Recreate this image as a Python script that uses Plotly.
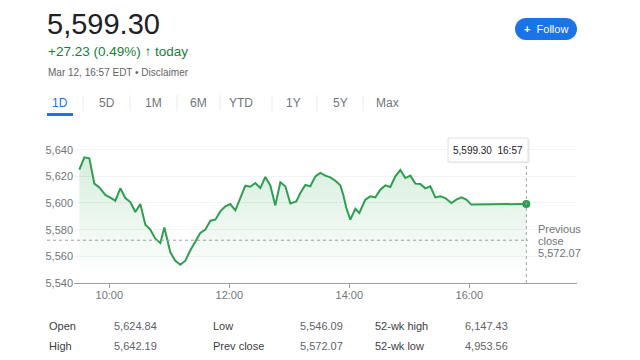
import plotly.graph_objects as go

# ---------------- data ----------------
DAY = "2024-03-12 "
times = ["09:30","09:35","09:40","09:45","09:50","09:56","10:01","10:06","10:11","10:16",
         "10:21","10:26","10:31","10:36","10:41","10:46","10:51","10:55","11:01","11:06",
         "11:11","11:16","11:21","11:26","11:31","11:36","11:41","11:46","11:51","11:56",
         "12:01","12:06","12:11","12:16","12:21","12:26","12:31","12:36","12:41","12:46",
         "12:51","12:56","13:01","13:07","13:11","13:16","13:21","13:26","13:31","13:36",
         "13:41","13:46","13:51","13:54","13:57","14:01","14:06","14:10","14:16","14:21",
         "14:26","14:31","14:36","14:41","14:46","14:51","14:56","15:01","15:06","15:11",
         "15:16","15:21","15:26","15:31","15:36","15:42","15:47","15:52","15:57","16:02",
         "16:57"]
prices = [5625.0,5634.2,5633.5,5614.5,5611.7,5606.0,5604.0,5601.7,5611.0,5603.7,
          5600.7,5593.2,5599.2,5583.7,5580.0,5573.2,5570.0,5581.7,5563.0,5556.7,
          5553.7,5556.7,5564.5,5571.3,5577.5,5580.0,5586.7,5587.5,5593.7,5597.5,
          5599.2,5594.5,5603.7,5613.0,5612.2,5615.0,5611.2,5619.5,5613.2,5598.2,
          5615.5,5612.5,5599.7,5601.2,5607.5,5613.5,5612.5,5620.0,5622.5,5620.5,
          5619.2,5616.7,5613.2,5606.0,5596.2,5587.5,5595.7,5592.5,5602.5,5605.0,
          5604.2,5610.0,5613.2,5612.0,5620.0,5624.7,5618.7,5620.5,5614.5,5614.2,
          5611.0,5612.5,5604.2,5605.0,5603.7,5600.0,5602.5,5604.2,5602.5,5598.8,
          5599.3]
x_ticks = ["10:00", "12:00", "14:00", "16:00"]
y_ticks = [5540, 5560, 5580, 5600, 5620, 5640]

last_price = "5,599.30"
change_text = "+27.23 (0.49%) <b>\u2191</b> today"
stamp_text = "Mar 12, 16:57 EDT \u2022 Disclaimer"
last_time = "16:57"
prev_close = 5572.07
tabs = ["1D", "5D", "1M", "6M", "YTD", "1Y", "5Y", "Max"]
stat_labels = [["Open", "High"], ["Low", "Prev close"], ["52-wk high", "52-wk low"]]
stat_values = [["5,624.84", "5,642.19"], ["5,546.09", "5,572.07"], ["6,147.43", "4,953.56"]]

# ---------------- layout geometry (page pixels) ----------------
W, H = 640, 360
OFF = 8                      # body margin of the page
PL, PR, PT, PB = 74, 577, 137, 283   # plot area edges on the page
PW, PH = PR - PL, PB - PT

def px(x):
    return (x - PL) / PW

def py(y):
    return (PB - y) / PH

FONT = "Liberation Sans, Arial, sans-serif"
GREEN = "#2f9e52"
GRAY = "#70757a"

xs = [DAY + t for t in times]

fig = go.Figure()
fig.add_trace(go.Scatter(
    x=xs, y=prices, mode="lines",
    line=dict(color=GREEN, width=2),
    fill="tozeroy",
    fillgradient=dict(type="vertical", start=5545, stop=5635,
                      colorscale=[[0, "rgba(52,168,83,0.0)"], [1, "rgba(52,168,83,0.2)"]]),
    hoverinfo="skip", showlegend=False))
fig.add_trace(go.Scatter(
    x=[xs[-1]], y=[prices[-1]], mode="markers",
    marker=dict(color=GREEN, size=8), hoverinfo="skip", showlegend=False))

annotations = []
shapes = []

# header
annotations.append(dict(text=last_price, x=px(45), y=py(24), xref="paper", yref="paper",
                        xanchor="left", yanchor="middle", showarrow=False,
                        font=dict(size=29, color="#202124", family=FONT)))
annotations.append(dict(text=change_text, x=px(46), y=py(51), xref="paper", yref="paper",
                        xanchor="left", yanchor="middle", showarrow=False,
                        font=dict(size=13.5, color="#188038", family=FONT)))
annotations.append(dict(text=stamp_text, x=px(46), y=py(72), xref="paper", yref="paper",
                        xanchor="left", yanchor="middle", showarrow=False,
                        font=dict(size=10, color="#5f6368", family=FONT)))

# top card edge
shapes.append(dict(type="line", xref="paper", yref="paper", x0=px(0), x1=px(603),
                   y0=py(1), y1=py(1), line=dict(color="#e6e6e6", width=2)))

# follow button (pill)
def pill(x0, y0, x1, y1):
    r = (y1 - y0) / 2
    k = 0.5523 * r
    ym = (y0 + y1) / 2
    pts = [("M", [(x0 + r, y0)]), ("L", [(x1 - r, y0)]),
           ("C", [(x1 - r + k, y0), (x1, ym - k), (x1, ym)]),
           ("C", [(x1, ym + k), (x1 - r + k, y1), (x1 - r, y1)]),
           ("L", [(x0 + r, y1)]),
           ("C", [(x0 + r - k, y1), (x0, ym + k), (x0, ym)]),
           ("C", [(x0, ym - k), (x0 + r - k, y0), (x0 + r, y0)])]
    s = ""
    for cmd, p in pts:
        s += cmd + " " + " ".join(f"{px(a):.5f},{py(b):.5f}" for a, b in p) + " "
    return s + "Z"

shapes.append(dict(type="path", xref="paper", yref="paper", path=pill(515, 18, 577, 40),
                   fillcolor="#1a73e8", line=dict(width=0)))
annotations.append(dict(text="<b>+</b>  Follow", x=px(546), y=py(29), xref="paper",
                        yref="paper", xanchor="center", yanchor="middle", showarrow=False,
                        font=dict(size=11, color="white", family=FONT)))

# tabs
tab_x = [60, 107, 153, 198, 241, 293, 340, 387]
sep_x = [83, 130, 177, 220, 272, 317, 363]
for name, tx in zip(tabs, tab_x):
    annotations.append(dict(text=name, x=px(tx), y=py(103), xref="paper", yref="paper",
                            xanchor="center", yanchor="middle", showarrow=False,
                            font=dict(size=12, color="#1a73e8" if name == "1D" else GRAY,
                                      family=FONT)))
for sx in sep_x:
    shapes.append(dict(type="line", xref="paper", yref="paper", x0=px(sx), x1=px(sx),
                       y0=py(95), y1=py(111), line=dict(color="#e8eaed", width=1)))
shapes.append(dict(type="rect", xref="paper", yref="paper", x0=px(47), x1=px(73),
                   y0=py(113), y1=py(116), fillcolor="#1a73e8", line=dict(width=0)))

# previous close dotted line
shapes.append(dict(type="line", xref="paper", yref="y", x0=px(47), x1=px(528),
                   y0=prev_close, y1=prev_close,
                   line=dict(color="#9aa0a6", width=1, dash="dot")))
# vertical dotted line at last point
shapes.append(dict(type="line", xref="x", yref="paper", x0=xs[-1], x1=xs[-1],
                   y0=0, y1=py(162), line=dict(color="#9aa0a6", width=1, dash="dot")))

# tooltip box
shapes.append(dict(type="rect", xref="paper", yref="paper", x0=px(449), x1=px(530),
                   y0=py(163), y1=py(139), fillcolor="rgba(0,0,0,0.06)", line=dict(width=0)))
shapes.append(dict(type="rect", xref="paper", yref="paper", x0=px(448), x1=px(528),
                   y0=py(162), y1=py(138), fillcolor="white",
                   line=dict(color="#e0e0e0", width=1)))
annotations.append(dict(text=f"{last_price}  {last_time}", x=px(488), y=py(150),
                        xref="paper", yref="paper", xanchor="center", yanchor="middle",
                        showarrow=False, font=dict(size=10, color="#202124", family=FONT)))

# previous close label
for i, line in enumerate(["Previous", "close", f"{prev_close:,.2f}"]):
    annotations.append(dict(text=line, x=px(536), y=py(229 + 12 * i), xref="paper",
                            yref="paper", xanchor="left", yanchor="middle", showarrow=False,
                            font=dict(size=11, color=GRAY, family=FONT)))

# stats table
col_lab = [47, 211, 373]
col_val = [112, 298, 463]
row_y = [326, 346]
for c in range(3):
    for r in range(2):
        annotations.append(dict(text=stat_labels[c][r], x=px(col_lab[c]), y=py(row_y[r]),
                                xref="paper", yref="paper", xanchor="left", yanchor="middle",
                                showarrow=False,
                                font=dict(size=11, color="#3c4043", family=FONT)))
        annotations.append(dict(text=stat_values[c][r], x=px(col_val[c]), y=py(row_y[r]),
                                xref="paper", yref="paper", xanchor="left", yanchor="middle",
                                showarrow=False,
                                font=dict(size=11, color="#5f6368", family=FONT)))

fig.update_layout(
    width=W, height=H,
    margin=dict(l=PL - OFF, r=W - (PR - OFF), t=PT - OFF, b=H - (PB - OFF), pad=0),
    paper_bgcolor="white", plot_bgcolor="white",
    hovermode=False, showlegend=False,
    font=dict(family=FONT, color=GRAY, size=11),
    shapes=shapes, annotations=annotations,
    xaxis=dict(type="date", range=[DAY + "09:24:40", DAY + "17:47:40"],
               tickvals=[DAY + t for t in x_ticks], ticktext=x_ticks,
               showgrid=False, zeroline=False, showline=True, linecolor="#9aa0a6",
               linewidth=1, ticks="outside", ticklen=4, tickcolor="#9aa0a6",
               ticklabelstandoff=-2,
               tickfont=dict(size=11, color=GRAY), fixedrange=True),
    yaxis=dict(range=[5540, 5540 + PH * 20 / 26.67],
               tickvals=y_ticks, ticktext=[f"{v:,}" for v in y_ticks],
               showgrid=True, gridcolor="#f1f3f4", gridwidth=1, zeroline=False,
               showline=False, ticks="", tickfont=dict(size=11, color=GRAY),
               fixedrange=True),
)

fig.write_html("out.html")
